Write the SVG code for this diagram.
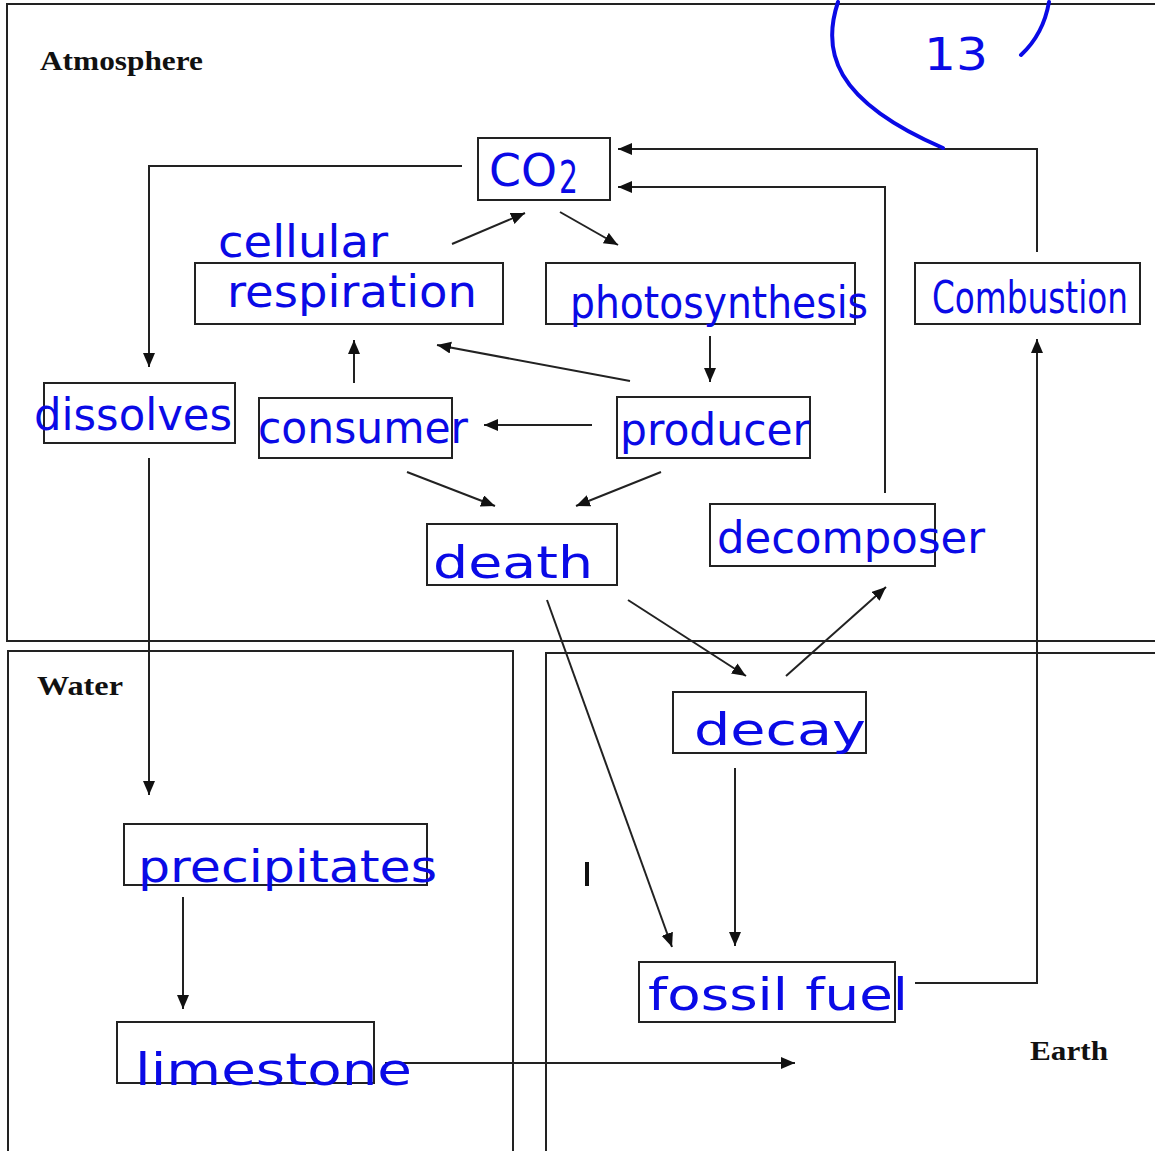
<svg xmlns="http://www.w3.org/2000/svg" width="1155" height="1151" viewBox="0 0 1155 1151">
<defs>
<marker id="ah" markerUnits="userSpaceOnUse" markerWidth="16" markerHeight="14" refX="14" refY="6" orient="auto">
<path d="M0,0 L14,6 L0,12 Z" fill="#111"/>
</marker>
<style>
.frame{fill:none;stroke:#222;stroke-width:2}
.box{fill:none;stroke:#222;stroke-width:2}
.ln{fill:none;stroke:#222;stroke-width:2}
.ar{fill:none;stroke:#222;stroke-width:2;marker-end:url(#ah)}
.lab{font-family:"Liberation Serif",serif;font-weight:bold;font-size:27px;fill:#111}
.hw{font-family:"DejaVu Sans",sans-serif;fill:#0a0ae6;font-size:44px}
.ink{fill:none;stroke:#0a0ae6;stroke-width:4;stroke-linecap:round}
</style>
</defs>
<rect width="1155" height="1151" fill="#fff"/>
<g id="regions">
<path class="frame" d="M1155,4 H7 V641 H1155"/>
<path class="frame" d="M8,1151 V651 H513 V1151"/>
<path class="frame" d="M546,1151 V653 H1155"/>
<text class="lab" x="40" y="70" textLength="163" lengthAdjust="spacingAndGlyphs">Atmosphere</text>
<text class="lab" x="37" y="695" textLength="86" lengthAdjust="spacingAndGlyphs">Water</text>
<text class="lab" x="1030" y="1060" textLength="78" lengthAdjust="spacingAndGlyphs">Earth</text>
<rect x="585" y="862" width="4" height="24" fill="#111"/>
</g>
<g id="connectors">
<path class="ar" d="M462,166 H149 V367"/>
<path class="ar" d="M149,458 V795"/>
<path class="ar" d="M183,897 V1009"/>
<path class="ar" d="M385,1063 H795"/>
<path class="ar" d="M915,983 H1037 V339"/>
<path class="ar" d="M1037,252 V149 H618"/>
<path class="ar" d="M885,493 V187 H618"/>
<path class="ar" d="M452,244 L525,213"/>
<path class="ar" d="M560,212 L618,245"/>
<path class="ar" d="M710,336 V382"/>
<path class="ar" d="M630,381 L437,345"/>
<path class="ar" d="M354,383 V340"/>
<path class="ar" d="M592,425 H484"/>
<path class="ar" d="M407,472 L495,506"/>
<path class="ar" d="M661,472 L576,506"/>
<path class="ar" d="M547,600 L672,947"/>
<path class="ar" d="M628,600 L746,676"/>
<path class="ar" d="M786,676 L886,587"/>
<path class="ar" d="M735,768 V946"/>
</g>
<g id="co2">
<rect class="box" x="478" y="138" width="132" height="62"/>
<text class="hw" x="489" y="186" font-size="56" textLength="68" lengthAdjust="spacingAndGlyphs">CO</text>
<text class="hw" x="559" y="193" font-size="28" textLength="19" lengthAdjust="spacingAndGlyphs">2</text>
</g>
<g id="cellular-respiration">
<rect class="box" x="195" y="263" width="308" height="61"/>
<text class="hw" x="218" y="257" font-size="40" textLength="170" lengthAdjust="spacingAndGlyphs">cellular</text>
<text class="hw" x="227" y="307" font-size="40" textLength="250" lengthAdjust="spacingAndGlyphs">respiration</text>
</g>
<g id="photosynthesis">
<rect class="box" x="546" y="263" width="309" height="61"/>
<text class="hw" x="570" y="318" textLength="298" lengthAdjust="spacingAndGlyphs">photosynthesis</text>
</g>
<g id="combustion">
<rect class="box" x="915" y="263" width="225" height="61"/>
<text class="hw" x="932" y="313" font-size="42" textLength="196" lengthAdjust="spacingAndGlyphs">Combustion</text>
</g>
<g id="dissolves">
<rect class="box" x="44" y="383" width="191" height="60"/>
<text class="hw" x="34" y="430" textLength="198" lengthAdjust="spacingAndGlyphs">dissolves</text>
</g>
<g id="consumer">
<rect class="box" x="259" y="398" width="193" height="60"/>
<text class="hw" x="258" y="443" textLength="210" lengthAdjust="spacingAndGlyphs">consumer</text>
</g>
<g id="producer">
<rect class="box" x="617" y="397" width="193" height="61"/>
<text class="hw" x="620" y="445" textLength="190" lengthAdjust="spacingAndGlyphs">producer</text>
</g>
<g id="death">
<rect class="box" x="427" y="524" width="190" height="61"/>
<text class="hw" x="433" y="578" font-size="52" textLength="160" lengthAdjust="spacingAndGlyphs">death</text>
</g>
<g id="decomposer">
<rect class="box" x="710" y="504" width="225" height="62"/>
<text class="hw" x="717" y="553" textLength="268" lengthAdjust="spacingAndGlyphs">decomposer</text>
</g>
<g id="decay">
<rect class="box" x="673" y="692" width="193" height="61"/>
<text class="hw" x="694" y="745" font-size="56" textLength="172" lengthAdjust="spacingAndGlyphs">decay</text>
</g>
<g id="precipitates">
<rect class="box" x="124" y="824" width="303" height="61"/>
<text class="hw" x="138" y="882" font-size="56" textLength="299" lengthAdjust="spacingAndGlyphs">precipitates</text>
</g>
<g id="limestone">
<rect class="box" x="117" y="1022" width="257" height="61"/>
<text class="hw" x="135" y="1085" font-size="56" textLength="277" lengthAdjust="spacingAndGlyphs">limestone</text>
</g>
<g id="fossil-fuel">
<rect class="box" x="639" y="962" width="256" height="60"/>
<text class="hw" x="648" y="1010" font-size="56" textLength="260" lengthAdjust="spacingAndGlyphs">fossil fuel</text>
</g>
<g id="annotation">
<path class="ink" d="M838,2 C822,50 832,100 943,148"/>
<path class="ink" d="M1049,2 C1045,25 1035,42 1021,55"/>
<text class="hw" x="924" y="70" font-size="70" textLength="64" lengthAdjust="spacingAndGlyphs">13</text>
</g>
</svg>
